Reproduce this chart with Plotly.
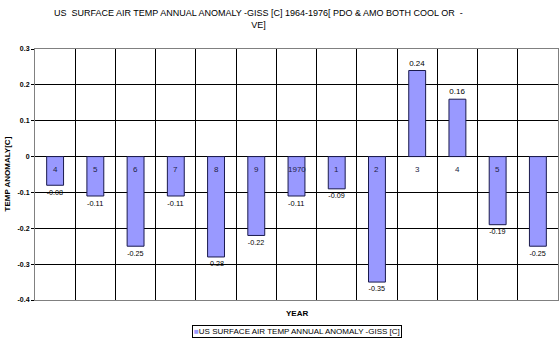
import plotly.graph_objects as go

years = ["1964", "1965", "1966", "1967", "1968", "1969", "1970", "1971", "1972", "1973", "1974", "1975", "1976"]
tick_labels = ["4", "5", "6", "7", "8", "9", "1970", "1", "2", "3", "4", "5", ""]
anomaly = [-0.08, -0.11, -0.25, -0.11, -0.28, -0.22, -0.11, -0.09, -0.35, 0.24, 0.16, -0.19, -0.25]
data_labels = ["-0.08", "-0.11", "-0.25", "-0.11", "-0.28", "-0.22", "-0.11", "-0.09", "-0.35", "0.24", "0.16", "-0.19", "-0.25"]
series_name = "US SURFACE AIR TEMP ANNUAL ANOMALY -GISS [C]"
title_text = "US  SURFACE AIR TEMP ANNUAL ANOMALY -GISS [C] 1964-1976[ PDO & AMO BOTH COOL OR  -<br>VE]"

FONT = "Liberation Sans, Arial, sans-serif"
BAR = "#9999FF"
xs = list(range(len(years)))

W, H = 560, 345
L, R, T, B = 35, 2, 49, 45
pw, ph = W - L - R, H - T - B

def px_to_paper_x(px):
    return (px - L) / pw

def px_to_paper_y(py):
    return (H - B - py) / ph

fig = go.Figure()
fig.add_trace(go.Bar(
    x=xs, y=anomaly, width=0.42,
    marker=dict(color=BAR, line=dict(color="#1a1a4d", width=1)),
    text=data_labels, textposition="outside", cliponaxis=False,
    textfont=dict(family=FONT, size=8, color="black"),
    name=series_name, showlegend=False,
))

annotations = []
for x, lab in zip(xs, tick_labels):
    if lab:
        annotations.append(dict(x=x, y=0, xref="x", yref="y", text=lab, showarrow=False,
                                yanchor="top", yshift=-6,
                                font=dict(family=FONT, size=8, color="#222244")))
annotations.append(dict(x=0.5, y=0, xref="paper", yref="paper", text="<b>YEAR</b>", showarrow=False,
                        yanchor="middle", yshift=-13, font=dict(family=FONT, size=8, color="black")))
annotations.append(dict(x=0, y=0.5, xref="paper", yref="paper", text="<b>TEMP ANOMALY[C]</b>", showarrow=False,
                        textangle=-90, xanchor="center", xshift=-28, font=dict(family=FONT, size=8, color="black")))
# title
annotations.append(dict(x=px_to_paper_x(258), y=px_to_paper_y(6), xref="paper", yref="paper",
                        text=title_text, showarrow=False, xanchor="center", yanchor="top", align="center",
                        font=dict(family=FONT, size=9, color="black")))
# legend box
annotations.append(dict(x=px_to_paper_x(297), y=px_to_paper_y(331.5), xref="paper", yref="paper",
                        text="<span style='color:%s'>■</span>%s" % (BAR, series_name),
                        showarrow=False, xanchor="center", yanchor="middle",
                        bordercolor="black", borderwidth=1, borderpad=1, bgcolor="white",
                        font=dict(family=FONT, size=8, color="black")))

fig.update_layout(
    width=W, height=H,
    margin=dict(l=L, r=R, t=T, b=B, autoexpand=False),
    paper_bgcolor="white", plot_bgcolor="white",
    showlegend=False,
    annotations=annotations,
)
fig.update_xaxes(range=[-0.5, len(years) - 0.5], tickvals=[i - 0.5 for i in range(len(years) + 1)],
                 showticklabels=False, showgrid=True, gridcolor="black", gridwidth=1,
                 showline=True, linecolor="gray", mirror=True, ticks="", zeroline=False)
fig.update_yaxes(range=[-0.4, 0.3], tickvals=[0.3, 0.2, 0.1, 0, -0.1, -0.2, -0.3, -0.4],
                 ticktext=["<b>0.3</b>", "<b>0.2</b>", "<b>0.1</b>", "<b>0</b>", "<b>-0.1</b>",
                           "<b>-0.2</b>", "<b>-0.3</b>", "<b>-0.4</b>"],
                 showgrid=True, gridcolor="black", gridwidth=1,
                 zeroline=True, zerolinecolor="black", zerolinewidth=1,
                 showline=True, linecolor="gray", mirror=True,
                 ticks="outside", ticklen=3, tickcolor="black",
                 tickfont=dict(family=FONT, size=7, color="black"))

fig.write_html("out.html")
